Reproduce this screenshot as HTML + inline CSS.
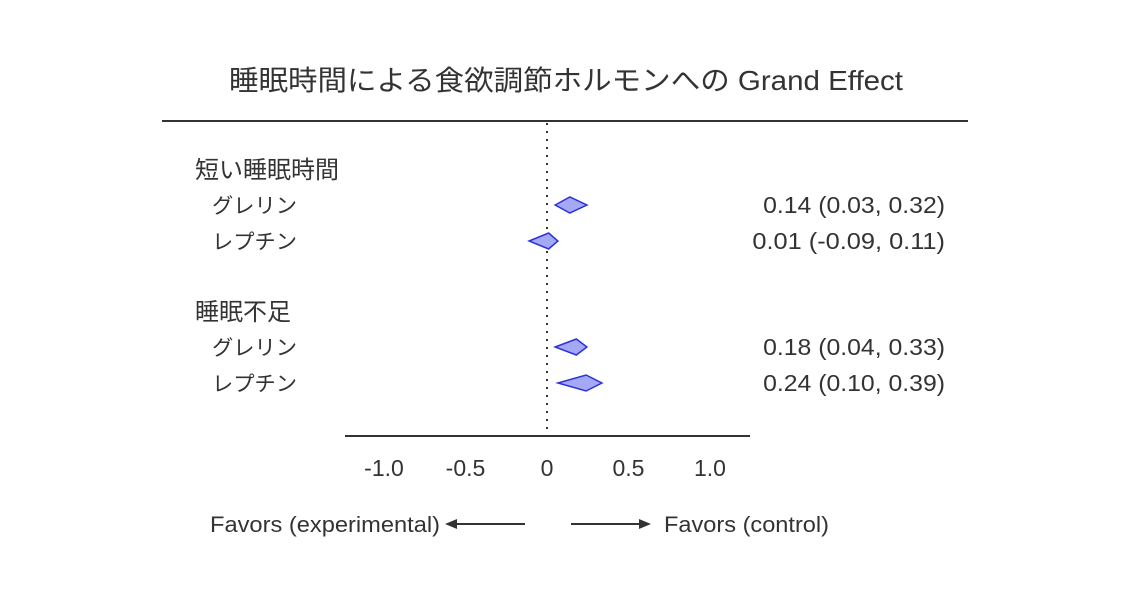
<!DOCTYPE html>
<html><head><meta charset="utf-8"><style>
body{margin:0;background:#fff}
svg{display:block;font-family:"Liberation Sans","Noto Sans CJK JP",sans-serif;fill:#333}
</style></head><body>
<svg width="1134" height="602">
<text x="229" y="90" font-size="28" textLength="674" lengthAdjust="spacingAndGlyphs">睡眠時間による食欲調節ホルモンへの Grand Effect</text>
<line x1="162" y1="121" x2="968" y2="121" stroke="#333" stroke-width="2"/>
<g id="plot"></g>
<text x="210" y="532" font-size="22" textLength="230" lengthAdjust="spacingAndGlyphs">Favors (experimental)</text>
<text x="664" y="532" font-size="22" textLength="165" lengthAdjust="spacingAndGlyphs">Favors (control)</text>
<line x1="525" y1="524" x2="455" y2="524" stroke="#333" stroke-width="2"/>
<polygon points="445,524 457,519 457,529" fill="#333"/>
<line x1="571" y1="524" x2="641" y2="524" stroke="#333" stroke-width="2"/>
<polygon points="651,524 639,519 639,529" fill="#333"/>
</svg>
<script>
const groups=["短い睡眠時間","睡眠不足"];
const labels=["グレリン","レプチン","グレリン","レプチン"];
const est=[0.14,0.01,0.18,0.24];
const ciLo=[0.03,-0.09,0.04,0.10];
const ciHi=[0.32,0.11,0.33,0.39];
const diamondLo=[0.05,-0.11,0.05,0.067];
const diamondHi=[0.245,0.067,0.245,0.337];
const ticks=[-1,-0.5,0,0.5,1];
const tickLabels=["-1.0","-0.5","0","0.5","1.0"];
const ns="http://www.w3.org/2000/svg";
const g=document.getElementById('plot');
const x=v=>547+v*163;
const rowY=[205,241,347,383], groupY=[169,311];
function mk(t,a){const e=document.createElementNS(ns,t);for(const k in a)e.setAttribute(k,a[k]);g.appendChild(e);return e;}
let d=mk('line',{x1:x(0),y1:123,x2:x(0),y2:436,stroke:'#333','stroke-width':2,'stroke-dasharray':'2,6'});


let ax=mk('line',{x1:345,y1:436,x2:750,y2:436,stroke:'#333','stroke-width':2});


ticks.forEach((t,i)=>{let e=mk('text',{x:x(t),y:476,'text-anchor':'middle','font-size':23});e.textContent=tickLabels[i];

});
groups.forEach((s,i)=>{let e=mk('text',{x:195,y:groupY[i]+9,'font-size':24});e.textContent=s;

});
labels.forEach((s,i)=>{const y=rowY[i];
let e=mk('text',{x:212,y:y+8,'font-size':21,textLength:85,lengthAdjust:'spacingAndGlyphs'});e.textContent=s;


let p=mk('polygon',{points:`${x(diamondLo[i])},${y} ${x(est[i])},${y-8} ${x(diamondHi[i])},${y} ${x(est[i])},${y+8}`,fill:'#a5a8f5',stroke:'#2b32d9','stroke-width':1.5});


const txt=`${est[i].toFixed(2)} (${ciLo[i].toFixed(2)}, ${ciHi[i].toFixed(2)})`;
let t=mk('text',{x:945,y:y+8,'text-anchor':'end','font-size':23,textLength:txt.length*10.7,lengthAdjust:'spacingAndGlyphs'});
t.textContent=txt;

});
</script>
</body></html>
